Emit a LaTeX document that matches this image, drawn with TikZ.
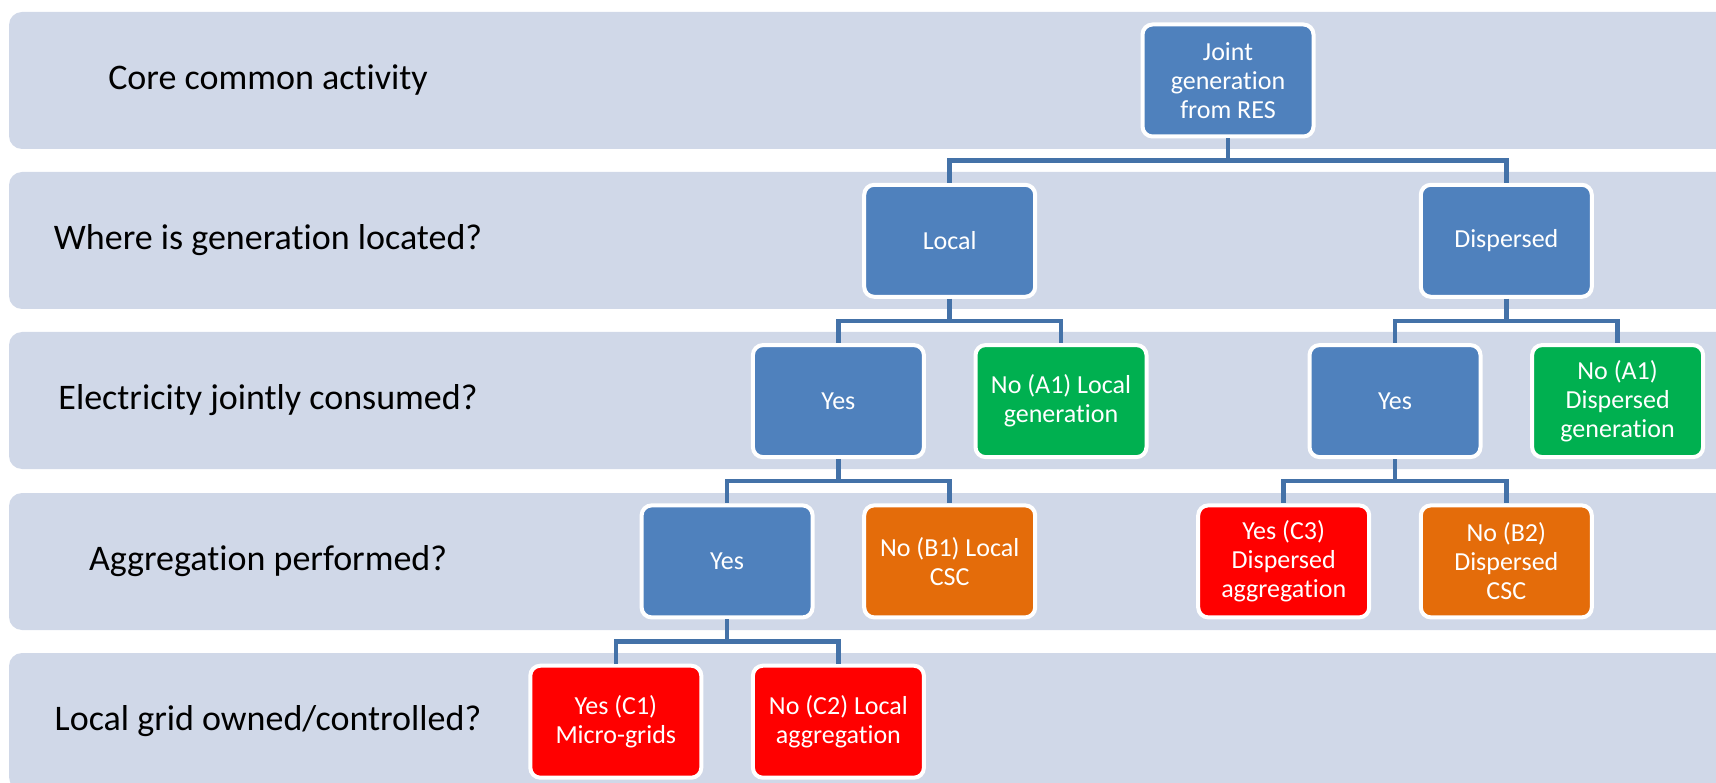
\documentclass[tikz,border=0pt]{standalone}
\usepackage{fontspec}
\setmainfont{Carlito}[Ligatures=NoCommon,RawFeature={-liga;-clig;-dlig}]
\usetikzlibrary{positioning}
\definecolor{bandgray}{HTML}{D0D8E8}
\definecolor{boxblue}{HTML}{4F81BD}
\definecolor{boxgreen}{HTML}{00B050}
\definecolor{boxorange}{HTML}{E46C0A}
\definecolor{boxred}{HTML}{FF0000}
\definecolor{linkblue}{HTML}{4472A8}

\begin{document}
\begin{tikzpicture}[x=1pt,y=1pt,on grid,node distance=160.3pt and 111.3pt,
  band/.style={fill=bandgray,rounded corners=13pt},
  question/.style={font=\fontsize{36pt}{43pt}\selectfont,text=black},
  main node/.style={rectangle,rounded corners=10pt,draw=white,line width=4pt,fill=boxblue,
    minimum width=171pt,minimum height=112pt,align=center,text=white,
    font=\fontsize{26pt}{29pt}\selectfont},
  every edge/.style={draw=linkblue,line width=4.5pt,
    to path={(\tikztostart.south) -- ++(0pt,-22pt) -| (\tikztotarget.north)}}]

  \clip (0,0) rectangle (1716,-783);

  % rows with their questions
  \foreach \ytop/\txt [count=\i] in {12/{Core common activity},172/{Where is generation located?},
      332/{Electricity jointly consumed?},493/{Aggregation performed?},653/{Local grid owned/controlled?}}
  {
    \fill[band] (9,-\ytop) rectangle ++(1760,-137);
    \node[question] (q\i) at (268,-\ytop-68.5) {\txt};
  }

  \node[main node] (joint) at (1228,-80.5) {Joint\\generation\\from RES};
  \node[main node] (local) [below left=160.3pt and 278.3pt of joint] {Local};
  \node[main node] (disp) [below right=160.3pt and 278.3pt of joint] {Dispersed};
  \node[main node] (yesL) [below left=of local] {Yes};
  \node[main node,fill = boxgreen] (noLG) [below right=of local] {No (A1) Local\\generation};
  \node[main node] (yesD) [below left=of disp] {Yes};
  \node[main node,fill = boxgreen] (noDG) [below right=of disp] {No (A1)\\Dispersed\\generation};
  \node[main node] (yesAgg) [below left=of yesL] {Yes};
  \node[main node,fill = boxorange] (noLC) [below right=of yesL] {No (B1) Local\\CSC};
  \node[main node,fill = boxred] (yesDA) [below left=of yesD] {Yes (C3)\\Dispersed\\aggregation};
  \node[main node,fill = boxorange] (noDC) [below right=of yesD] {No (B2)\\Dispersed\\CSC};
  \node[main node,fill = boxred] (yesMG) [below left=of yesAgg] {Yes (C1)\\Micro-grids};
  \node[main node,fill = boxred] (noLA) [below right=of yesAgg] {No (C2) Local\\aggregation};

  \path (joint) edge (local)
                edge (disp)
        (local) edge (yesL)
                edge (noLG)
        (disp) edge (yesD)
               edge (noDG)
        (yesL) edge (yesAgg)
               edge (noLC)
        (yesD) edge (yesDA)
               edge (noDC)
        (yesAgg) edge (yesMG)
                 edge (noLA);
\end{tikzpicture}
\end{document}
